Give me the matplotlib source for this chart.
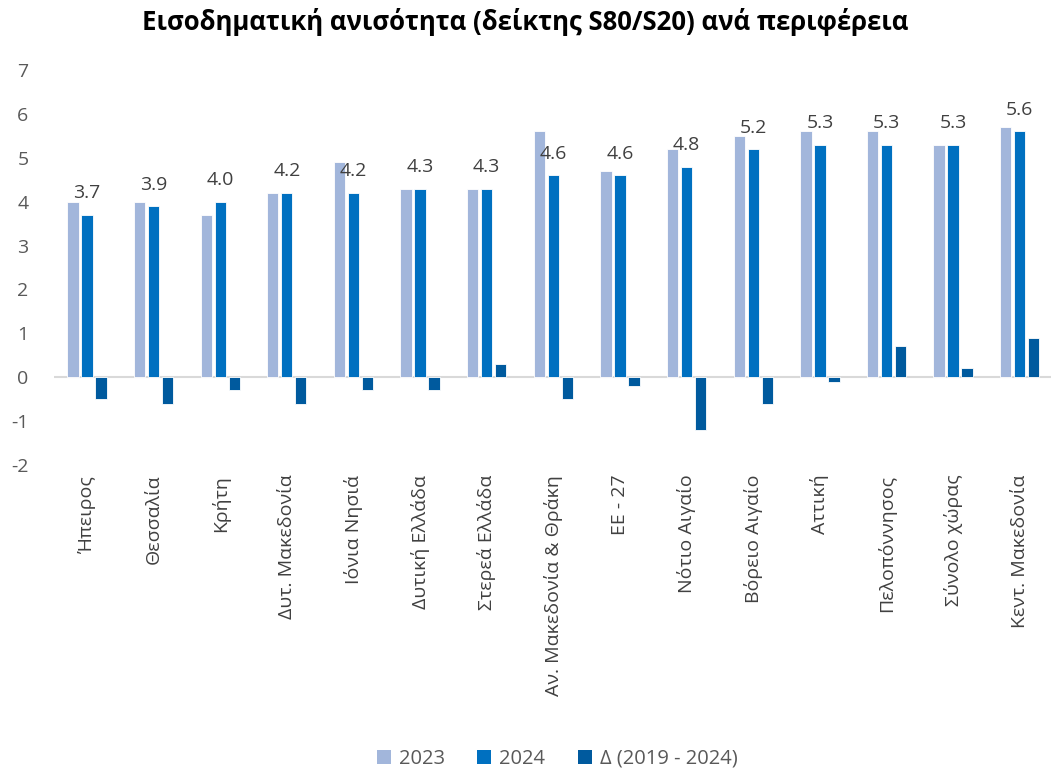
import numpy as np
import matplotlib.pyplot as plt
from matplotlib.patches import Patch

plt.rcParams['font.family'] = ['Open Sans', 'DejaVu Sans']

# ------------ DATA ------------

regions = ["Ήπειρος", "Θεσσαλία", "Κρήτη", "Δυτ. Μακεδονία", "Ιόνια Νησιά",
           "Δυτική Ελλάδα", "Στερεά Ελλάδα", "Αν. Μακεδονία & Θράκη", "ΕΕ - 27",
           "Νότιο Αιγαίο", "Βόρειο Αιγαίο", "Αττική", "Πελοπόννησος",
           "Σύνολο χώρας", "Κεντ. Μακεδονία"]

values_2023 = [4.0, 4.0, 3.7, 4.2, 4.9, 4.3, 4.3, 5.6, 4.7, 5.2, 5.5, 5.6, 5.6, 5.3, 5.7]
values_2024 = [3.7, 3.9, 4.0, 4.2, 4.2, 4.3, 4.3, 4.6, 4.6, 4.8, 5.2, 5.3, 5.3, 5.3, 5.6]
delta_2019_2024 = [-0.5, -0.6, -0.3, -0.6, -0.3, -0.3, 0.3, -0.5, -0.2, -1.2, -0.6, -0.1, 0.7, 0.2, 0.9]

series_names = ["2023", "2024", "Δ (2019 - 2024)"]
y_ticks = [-2, -1, 0, 1, 2, 3, 4, 5, 6, 7]

# ------------ STYLE ------------

COLORS = ["#A2B6DB", "#0070C0", "#005A9E"]
TEXT_COLOR = "#595959"
BAR_W = 0.17
STEP = 0.21

fig = plt.figure(figsize=(10.51, 7.73), dpi=100)
ax = fig.add_axes([0.051, 0.3985, 0.951, 0.5109])

x = np.arange(len(regions))
series = [values_2023, values_2024, delta_2019_2024]
for i, (vals, col) in enumerate(zip(series, COLORS)):
    ax.bar(x + (i - 1) * STEP, vals, width=BAR_W, color=col,
           edgecolor="white", linewidth=0.6, zorder=2)

# labels above the 2024 bars
for xi, v in zip(x, values_2024):
    ax.annotate(f"{v:.1f}", (xi, v), xytext=(0, 9), textcoords="offset points",
                ha="center", va="bottom", fontsize=14, color="#404040", zorder=3)

ax.axhline(0, color="#D9D9D9", linewidth=1.5, zorder=1)

ax.set_xlim(-0.5, len(regions) - 0.5)
ax.set_ylim(-2, 7)
ax.set_yticks(y_ticks)
ax.set_yticklabels([str(t) for t in y_ticks], fontsize=14, color=TEXT_COLOR)
ax.tick_params(axis="y", length=0, pad=18)
ax.set_xticks(x)
ax.set_xticklabels(regions, rotation=90, fontsize=14, color="#404040")
ax.tick_params(axis="x", length=0, pad=7)
for side in ["top", "right", "left", "bottom"]:
    ax.spines[side].set_visible(False)

fig.suptitle("Εισοδηματική ανισότητα (δείκτης S80/S20) ανά περιφέρεια",
             fontsize=18.5, fontweight="bold", y=0.99, x=0.5)

handles = [Patch(facecolor=c, edgecolor="none") for c in COLORS]
fig.legend(handles, series_names, loc="lower center", bbox_to_anchor=(0.53, -0.018),
           ncol=3, frameon=False, fontsize=14.5, handlelength=0.7, handleheight=0.7,
           handletextpad=0.4, columnspacing=1.6, labelcolor=TEXT_COLOR)

fig.savefig("out.png", dpi=100)
